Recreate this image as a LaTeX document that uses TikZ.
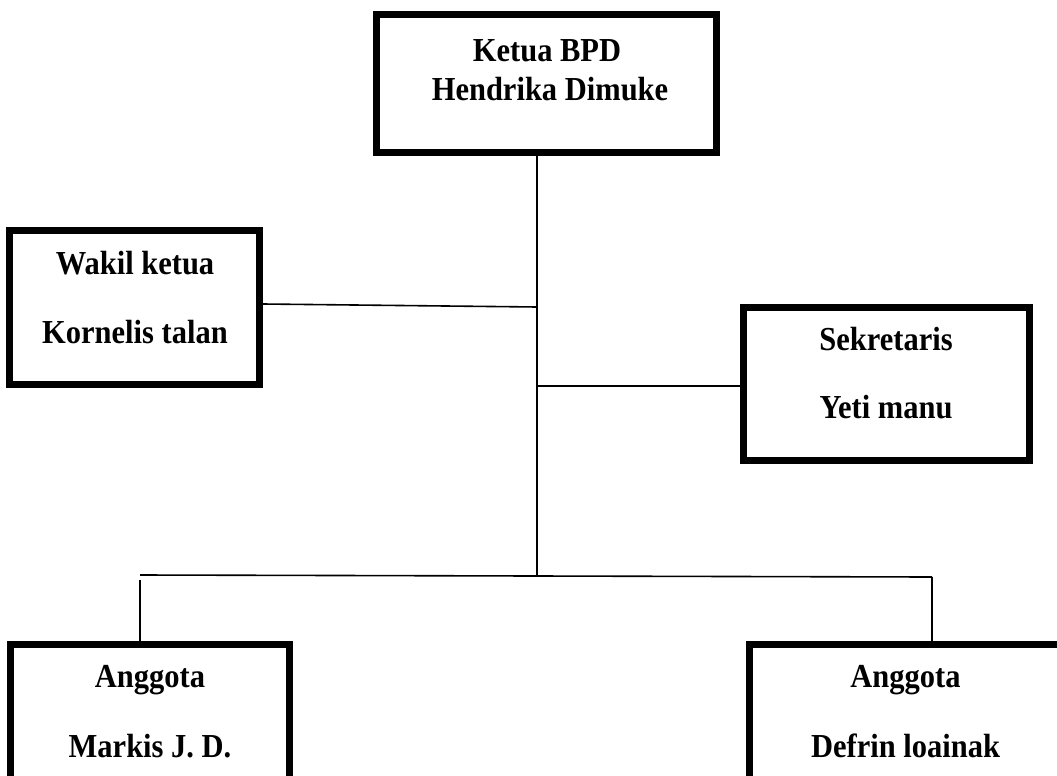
\documentclass[tikz,border=0pt]{standalone}
\usepackage{graphicx}
\usepackage{fontspec}
\setmainfont{Liberation Serif}
\newcommand{\tallText}[1]{\scalebox{1}[1.1]{#1}}
\begin{document}
\begin{tikzpicture}[x=1pt,y=-1pt,
  orgbox/.style={draw, line width=7pt, rectangle, inner sep=0pt, fill=white},
  lbl/.style={anchor=base, inner sep=0pt, font=\fontsize{30.5}{36}\selectfont\bfseries},
  conn/.style={line width=1.6pt}]
\useasboundingbox (0,0) rectangle (1057,776);
\clip (0,0) rectangle (1057,776);
% boxes
\node[orgbox, minimum width=340pt, minimum height=138pt] (ketua) at (546.5,83.5) {};
\node[orgbox, minimum width=250pt, minimum height=154pt] (wakil) at (134.5,307.5) {};
\node[orgbox, minimum width=286pt, minimum height=153pt] (sek) at (886.5,384) {};
\node[orgbox, minimum width=279pt, minimum height=156pt] (ang1) at (150,722.5) {};
\node[orgbox, minimum width=312pt, minimum height=156pt] (ang2) at (905.5,722.5) {};
% labels
\node[lbl] (ketuaA) at (547,62) {\tallText{Ketua BPD}};
\node[lbl] (ketuaB) at (550,100) {\tallText{Hendrika Dimuke}};
\node[lbl] (wakilA) at (135,274) {\tallText{Wakil ketua}};
\node[lbl] (wakilB) at (135,343) {\tallText{Kornelis talan}};
\node[lbl] (sekA) at (886,350) {\tallText{Sekretaris}};
\node[lbl] (sekB) at (886,418) {\tallText{Yeti manu}};
\node[lbl] (ang1A) at (150,687) {\tallText{Anggota}};
\node[lbl] (ang1B) at (150,757) {\tallText{Markis J. D.}};
\node[lbl] (ang2A) at (905.5,687) {\tallText{Anggota}};
\node[lbl] (ang2B) at (905.5,757) {\tallText{Defrin loainak}};
% connectors
\coordinate (spinebot) at (537,576);
\coordinate (wj) at (537,307);
\coordinate (sj) at (537,386);
\coordinate (bl) at (140,575);
\coordinate (br) at (932,577);
\draw[conn] (ketua.south -| spinebot) -- (spinebot);
\draw[conn] ([yshift=3.5pt]wakil.east) -- (wj);
\draw[conn] (sj) -- (sek.west |- sj);
\draw[conn] (bl) -- (br);
\draw[conn] ([yshift=-5pt]bl) -- (bl |- ang1.north);
\draw[conn] (br) -- (br |- ang2.north);
\end{tikzpicture}
\end{document}
